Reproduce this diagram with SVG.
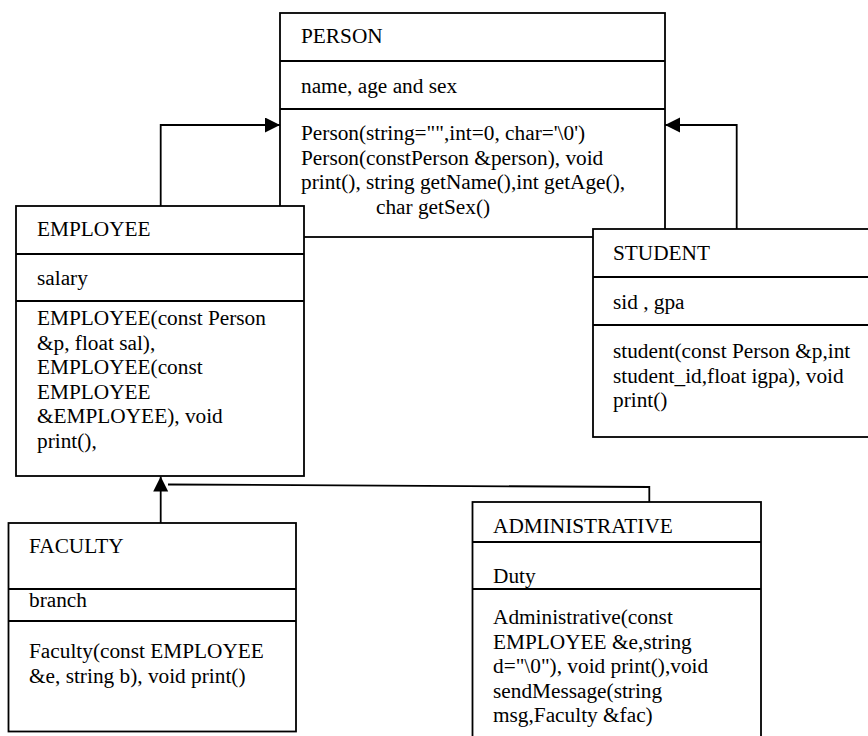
<svg xmlns="http://www.w3.org/2000/svg" width="868" height="736" viewBox="0 0 868 736">
<style>
  .box { fill: #fff; stroke: #000; stroke-width: 1.8; }
  .div { stroke: #000; stroke-width: 1.8; fill: none; }
  .conn { stroke: #000; stroke-width: 1.8; fill: none; }
  text { font-family: "Liberation Serif", "Times New Roman", serif; font-size: 21.3px; fill: #000; }
</style>
<defs>
  <marker id="tri" markerUnits="userSpaceOnUse" markerWidth="16" markerHeight="16" refX="15" refY="7.5" orient="auto">
    <path d="M0,0 L15,7.5 L0,15 z" fill="#000"/>
  </marker>
</defs>
<rect width="868" height="736" fill="#fff"/>
<g id="person">
  <rect class="box" x="280" y="13" width="385" height="224"/>
  <line class="div" x1="280" y1="61" x2="665" y2="61"/>
  <line class="div" x1="280" y1="109" x2="665" y2="109"/>
  <text x="301" y="43">PERSON</text>
  <text x="301" y="93">name, age and sex</text>
  <text x="301" y="140">Person(string="",int=0, char='\0')</text>
  <text x="301" y="164.5">Person(constPerson &amp;person), void</text>
  <text x="301" y="189">print(), string getName(),int getAge(),</text>
  <text x="376" y="213.5">char getSex()</text>
</g>
<g id="employee">
  <rect class="box" x="16" y="206" width="288" height="270"/>
  <line class="div" x1="16" y1="254" x2="304" y2="254"/>
  <line class="div" x1="16" y1="301" x2="304" y2="301"/>
  <text x="37" y="236">EMPLOYEE</text>
  <text x="37" y="285">salary</text>
  <text x="37" y="325">EMPLOYEE(const Person</text>
  <text x="37" y="349.5">&amp;p, float sal),</text>
  <text x="37" y="374">EMPLOYEE(const</text>
  <text x="37" y="398.5">EMPLOYEE</text>
  <text x="37" y="423">&amp;EMPLOYEE), void</text>
  <text x="37" y="447.5">print(),</text>
</g>
<g id="student">
  <rect class="box" x="593" y="229" width="280" height="208"/>
  <line class="div" x1="593" y1="277" x2="873" y2="277"/>
  <line class="div" x1="593" y1="325" x2="873" y2="325"/>
  <text x="613" y="260">STUDENT</text>
  <text x="613" y="309">sid , gpa</text>
  <text x="613" y="358">student(const Person &amp;p,int</text>
  <text x="613" y="382.5">student_id,float igpa), void</text>
  <text x="613" y="407">print()</text>
</g>
<g id="faculty">
  <rect class="box" x="8.5" y="523" width="287.5" height="208.5"/>
  <line class="div" x1="8.5" y1="589" x2="296" y2="589"/>
  <line class="div" x1="8.5" y1="621" x2="296" y2="621"/>
  <text x="29" y="553">FACULTY</text>
  <text x="29" y="607">branch</text>
  <text x="29" y="658">Faculty(const EMPLOYEE</text>
  <text x="29" y="682.5">&amp;e, string b), void print()</text>
</g>
<g id="administrative">
  <rect class="box" x="472.5" y="502" width="288.5" height="250"/>
  <line class="div" x1="472.5" y1="542" x2="761" y2="542"/>
  <line class="div" x1="472.5" y1="589" x2="761" y2="589"/>
  <text x="493" y="533">ADMINISTRATIVE</text>
  <text x="493" y="583">Duty</text>
  <text x="493" y="624">Administrative(const</text>
  <text x="493" y="648.5">EMPLOYEE &amp;e,string</text>
  <text x="493" y="673">d="\0"), void print(),void</text>
  <text x="493" y="697.5">sendMessage(string</text>
  <text x="493" y="722">msg,Faculty &amp;fac)</text>
</g>
<g id="connectors">
  <polyline class="conn" points="160.7,206 160.7,125 280,125" marker-end="url(#tri)"/>
  <polyline class="conn" points="736.7,229 736.7,125 665,125" marker-end="url(#tri)"/>
  <line class="conn" x1="160.7" y1="523" x2="160.7" y2="476.5" marker-end="url(#tri)"/>
  <polyline class="conn" points="649.3,502 649.3,487 168,484.5"/>
</g>
</svg>
